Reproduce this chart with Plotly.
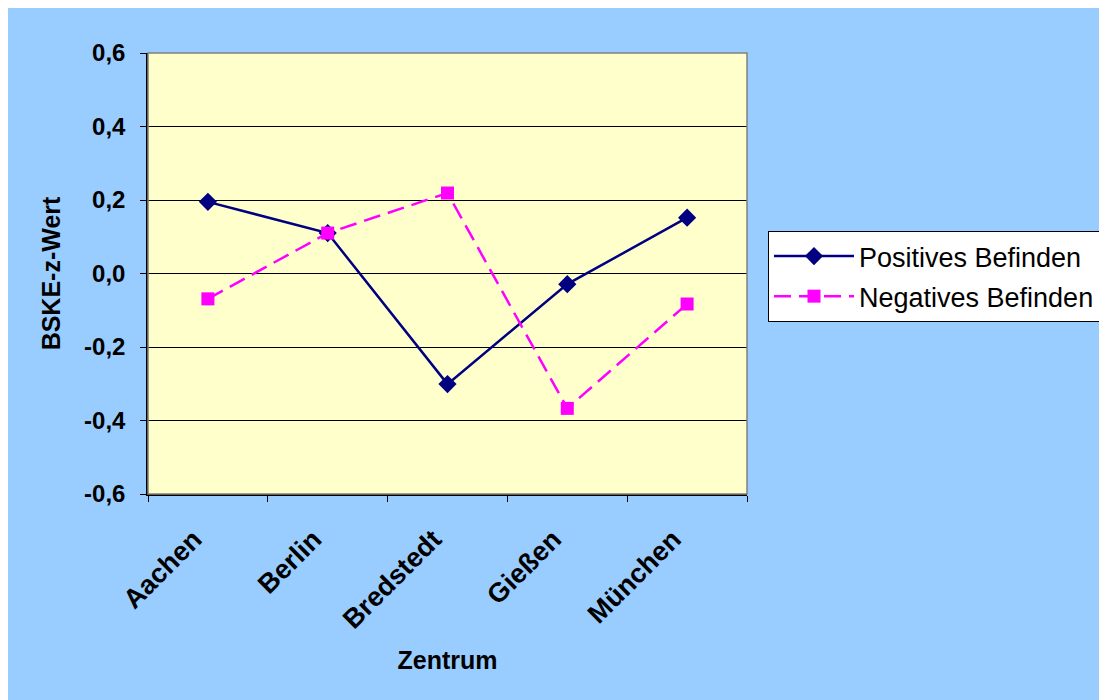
import plotly.graph_objects as go

zentren = ["Aachen", "Berlin", "Bredstedt", "Gießen", "München"]
positives = [0.195, 0.110, -0.301, -0.029, 0.152]
negatives = [-0.069, 0.110, 0.219, -0.367, -0.083]
y_ticks = [-0.6, -0.4, -0.2, 0.0, 0.2, 0.4, 0.6]
y_ticktext = [f"{v:.1f}".replace(".", ",") for v in y_ticks]

W, H = 1107, 700
L, R, T, B = 140, 368, 45, 214
pw, ph = W - L - R, H - T - B

fig = go.Figure()
fig.add_trace(go.Scatter(
    x=zentren, y=positives, name="Positives Befinden", mode="lines+markers",
    line=dict(color="#000080", width=2.5),
    marker=dict(symbol="diamond", size=14, color="#000080"),
    legendgroup="a",
))
fig.add_trace(go.Scatter(
    x=zentren, y=negatives, name="Negatives Befinden", mode="lines+markers",
    line=dict(color="#FF00FF", width=2.5, dash="17px,8px"),
    marker=dict(symbol="square", size=13, color="#FF00FF"),
    legendgroup="b",
))

def px_x(p):
    return (p - L) / pw

def px_y(p):
    return (H - B - p) / ph

shapes = [
    dict(type="rect", xref="paper", yref="paper", x0=0, x1=1, y0=0, y1=1,
         fillcolor="rgba(0,0,0,0)", line=dict(color="#808080", width=1.5), layer="above"),
]

fig.update_layout(
    width=W, height=H,
    margin=dict(l=L, r=R, t=T, b=B),
    paper_bgcolor="#99CCFF",
    plot_bgcolor="#FFFFCC",
    font=dict(family="Arial", size=24, color="black"),
    shapes=shapes,
    showlegend=True,
    legend=dict(
        x=px_x(760), y=px_y(223), xanchor="left", yanchor="top",
        bgcolor="white", bordercolor="black", borderwidth=1,
        font=dict(family="Arial", size=27, color="black"),
        tracegroupgap=2, itemwidth=80,
    ),
    xaxis=dict(
        type="category", range=[-0.5, 4.5],
        tickson="boundaries", ticks="outside", ticklen=6, tickcolor="black",
        tickangle=-45, tickfont=dict(family="Arial", size=27, weight="bold"),
        ticklabelstandoff=17, ticklabelshift=-14,
        showline=True, linecolor="black", linewidth=1.5, showgrid=False,
        title=dict(text="Zentrum", font=dict(family="Arial", size=25, weight="bold"), standoff=18),
    ),
    yaxis=dict(
        range=[-0.6, 0.6], tickvals=y_ticks, ticktext=y_ticktext,
        ticks="outside", ticklen=6, tickcolor="black",
        tickfont=dict(family="Arial", size=24, weight="bold"),
        ticklabelstandoff=10,
        showline=True, linecolor="black", linewidth=1.5,
        showgrid=True, gridcolor="black", gridwidth=1, zeroline=False,
        title=dict(text="BSKE-z-Wert", font=dict(family="Arial", size=25, weight="bold"), standoff=16),
    ),
)

fig.write_html("out.html")
